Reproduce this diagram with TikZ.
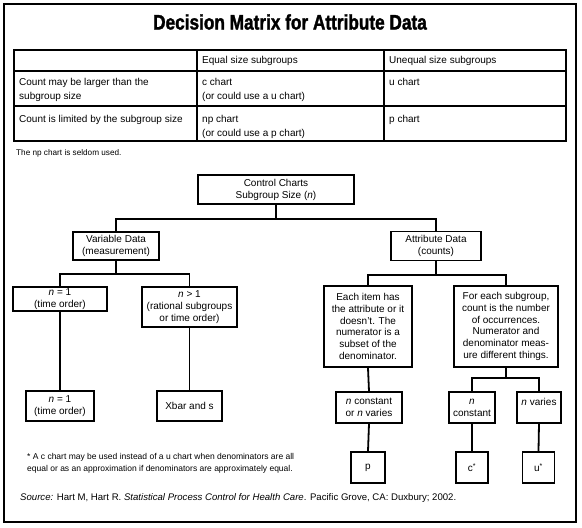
\documentclass[tikz,border=0pt]{standalone}
\usepackage{fontspec}
\setmainfont{Liberation Sans}
\newfontfamily\titlefont[FakeStretch=0.82,FakeBold=1.5]{Liberation Sans Bold}
\begin{document}
\begin{tikzpicture}[x=1pt,y=-1pt,
  frame/.style={line width=2pt},
  rule/.style={line width=1.8pt},
  link/.style={line width=1.8pt},
  cell/.style={anchor=base west, inner sep=0pt, font=\fontsize{10}{12}\selectfont},
  box/.style={draw, line width=1.8pt, inner sep=0pt, align=center, font=\fontsize{10}{12}\selectfont},
  tallbox/.style={box, font=\fontsize{10}{11.7}\selectfont},
  note/.style={anchor=base west, inner sep=0pt, align=left, font=\fontsize{8.5}{11.5}\selectfont}]
\useasboundingbox (0,0) rectangle (582,528);
% outer frame
\draw[frame] (4,4) rectangle (576,522);
% title
\node[inner sep=0pt, font=\titlefont\fontsize{21}{24}\selectfont] (title) at (290,22) {Decision Matrix for Attribute Data};
% table
\draw[rule] (14,50) rectangle (566,141);
\draw[rule] (14,71) -- (566,71);
\draw[rule] (14,106) -- (566,106);
\draw[rule] (197,50) -- (197,141);
\draw[rule] (384,50) -- (384,141);
\node[cell] (h2) at (202,63) {Equal size subgroups};
\node[cell] (h3) at (389,63) {Unequal size subgroups};
\node[cell] (r1a) at (19,85.5) {Count may be larger than the};
\node[cell] (r1b) at (19,99.5) {subgroup size};
\node[cell] (r1c) at (202,85.5) {c chart};
\node[cell] (r1d) at (202,99.5) {(or could use a u chart)};
\node[cell] (r1e) at (389,85.5) {u chart};
\node[cell] (r2a) at (19,122.5) {Count is limited by the subgroup size};
\node[cell] (r2c) at (202,122.5) {np chart};
\node[cell] (r2d) at (202,136) {(or could use a p chart)};
\node[cell] (r2e) at (389,122.5) {p chart};
\node[note, font=\fontsize{8.2}{10}\selectfont] (seldom) at (16,155) {The np chart is seldom used.};
% tree boxes
\node[box, minimum width=156pt, minimum height=29pt] (ctrl) at (276,189.5) {Control Charts\\Subgroup Size (\textit{n})};
\node[box, minimum width=86pt, minimum height=28pt] (var) at (116,246) {Variable Data\\(measurement)};
\node[box, minimum width=90pt, minimum height=29pt] (attr) at (436,246) {Attribute Data\\(counts)};
\node[box, minimum width=94pt, minimum height=24pt] (n1) at (60,299) {\textit{n} = 1\\(time order)};
\node[box, minimum width=95pt, minimum height=40pt] (ngt) at (189.5,307) {\textit{n} > 1\\(rational subgroups\\or time order)};
\node[box, minimum width=68pt, minimum height=30pt] (n1b) at (60,406) {\textit{n} = 1\\(time order)};
\node[box, minimum width=65pt, minimum height=30pt] (xbar) at (189.5,406) {Xbar and s};
\node[tallbox, minimum width=88pt, minimum height=81pt] (each) at (368,326.5) {Each item has\\the attribute or it\\doesn’t. The\\numerator is a\\subset of the\\denominator.};
\node[tallbox, minimum width=104pt, minimum height=81pt] (fore) at (506,326.5) {For each subgroup,\\count is the number\\of occurrences.\\Numerator and\\denominator meas-\\ure different things.};
\node[box, minimum width=66pt, minimum height=31pt] (ncv) at (369,407.5) {\textit{n} constant\\or \textit{n} varies};
\node[box, minimum width=46pt, minimum height=31pt] (ncon) at (472,407.5) {\textit{n}\\constant};
\node[box, minimum width=44pt, minimum height=31pt] (nvar) at (539,407.5) {\textit{n} varies\\\mbox{}};
\node[box, minimum width=34pt, minimum height=31pt] (p) at (368,467.5) {p};
\node[box, minimum width=32pt, minimum height=31pt] (cst) at (472,467.5) {c\textsuperscript{*}};
\node[box, minimum width=32pt, minimum height=31pt] (ust) at (538.5,467.5) {u\textsuperscript{*}};
% hubs
\coordinate (hA) at (276,219);
\coordinate (hV) at (116,274);
\coordinate (hT) at (436,275);
\coordinate (hF) at (506,378);
% connectors
\draw[link] (ctrl.south) -- (hA);
\draw[link] (var.north) |- (hA) -| (attr.north);
\draw[link] (var.south) -- (hV);
\draw[link] (n1.north) |- (hV) -| (ngt.north);
\draw[link] (attr.south) -- (hT);
\draw[link] (each.north) |- (hT) -| (fore.north);
\draw[link] (n1.south) -- (n1b.north);
\draw[link] (ngt.south) -- (xbar.north);
\draw[link] (each.south) -- (ncv.north);
\draw[link] (fore.south) -- (hF);
\draw[link] (ncon.north) |- (hF) -| (nvar.north);
\draw[link] (ncv.south) -- (p.north);
\draw[link] (ncon.south) -- (cst.north);
\draw[link] (nvar.south) -- (ust.north);
% notes
\node[note] (foot) at (27,471) {* A c chart may be used instead of a u chart when denominators are all\\equal or as an approximation if denominators are approximately equal.};
\node[note, font=\fontsize{9.6}{11.5}\selectfont] (src) at (20,500) {\textit{Source:} Hart M, Hart R. \textit{Statistical Process Control for Health Care}. Pacific Grove, CA: Duxbury; 2002.};
\end{tikzpicture}
\end{document}
